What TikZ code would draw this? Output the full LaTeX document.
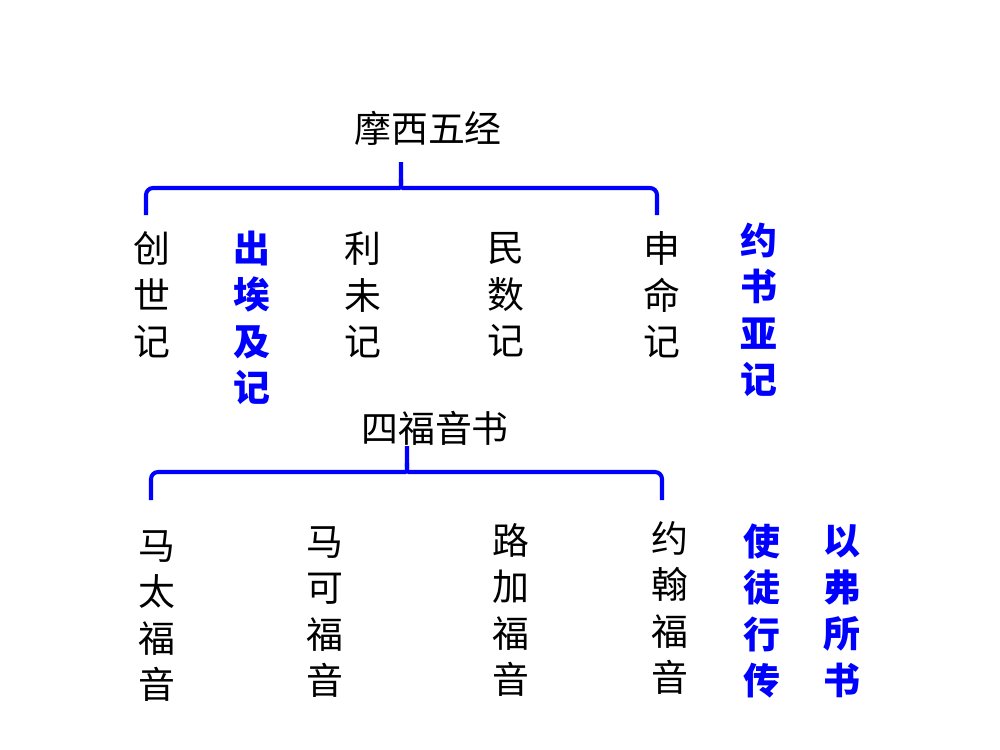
\documentclass[tikz,border=0pt]{standalone}
\usepackage{fontspec}
\newfontfamily\cjk{Noto Sans CJK SC}
\usepackage{tikz}
\definecolor{braceblue}{RGB}{0,0,255}
\tikzset{
    booknode/.style = {
        align=center,
        inner sep=0pt,
        outer sep=0mm,
        font=\cjk\fontsize{21}{26.5}\selectfont
    },
    extrabooknode/.style = {
        booknode,
        text=braceblue,
        font=\cjk\bfseries\fontsize{21}{26.5}\selectfont
    },
    groupnode/.style = {
        booknode
    },
    bracket/.style = {
        draw=braceblue,
        line width=2.3pt
    }
}
\begin{document}
\begin{tikzpicture}[x=0.02cm, y=-0.02cm]
    \useasboundingbox (0,0) rectangle (1000,750);

    % Pentateuch
    \node [groupnode] (torah) at (428,128) {摩西五经};
    \coordinate (torahL) at (146,215);
    \coordinate (torahR) at (657,215);
    \coordinate (torahM) at (401,188);
    \coordinate (torahT) at (401,162);
    \draw [bracket] (torahL) [rounded corners=4pt] |- ([xshift=-5pt]torahM)
        [sharp corners] .. controls (torahM) .. ([yshift=5pt]torahM) -- (torahT);
    \draw [bracket] (torahR) [rounded corners=4pt] |- ([xshift=5pt]torahM)
        [sharp corners] .. controls (torahM) .. ([yshift=5pt]torahM);

    \node [booknode] (genesis) at (152,295) {创\\世\\记};
    \node [extrabooknode] (exodus) at (252,318) {出\\埃\\及\\记};
    \node [booknode] (leviticus) at (363,295) {利\\未\\记};
    \node [booknode] (numbers) at (506,295) {民\\数\\记};
    \node [booknode] (deuteronomy) at (662,295) {申\\命\\记};
    \node [extrabooknode] (joshua) at (759,310) {约\\书\\亚\\记};

    % Gospels
    \node [groupnode] (gospels) at (435,428) {四福音书};
    \coordinate (gospelsL) at (151,500);
    \coordinate (gospelsR) at (662,500);
    \coordinate (gospelsM) at (407,472);
    \coordinate (gospelsT) at (407,446);
    \draw [bracket] (gospelsL) [rounded corners=4pt] |- ([xshift=-5pt]gospelsM)
        [sharp corners] .. controls (gospelsM) .. ([yshift=5pt]gospelsM) -- (gospelsT);
    \draw [bracket] (gospelsR) [rounded corners=4pt] |- ([xshift=5pt]gospelsM)
        [sharp corners] .. controls (gospelsM) .. ([yshift=5pt]gospelsM);

    \node [booknode] (matthew) at (157,616) {马\\太\\福\\音};
    \node [booknode] (mark) at (325,612) {马\\可\\福\\音};
    \node [booknode] (luke) at (511,610) {路\\加\\福\\音};
    \node [booknode] (john) at (670,608) {约\\翰\\福\\音};
    \node [extrabooknode] (acts) at (762,611) {使\\徒\\行\\传};
    \node [extrabooknode] (ephesians) at (842,611) {以\\弗\\所\\书};
\end{tikzpicture}
\end{document}
